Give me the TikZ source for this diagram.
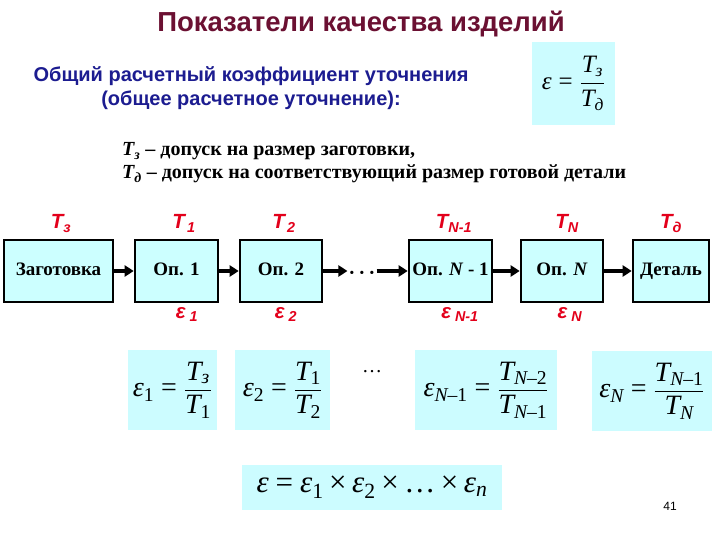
\documentclass[tikz,border=0pt]{standalone}
\usepackage{amsmath}
\usepackage{fontspec}
\setmainfont{Liberation Serif}
\setsansfont{Liberation Sans}
\usetikzlibrary{arrows.meta}
\definecolor{boxc}{HTML}{CCFFFF}
\definecolor{formc}{HTML}{CCFCFF}
\definecolor{titlec}{HTML}{6B1032}
\definecolor{bluec}{HTML}{1C1C90}
\definecolor{redc}{HTML}{E3001B}
\newcommand\mi[1]{\text{\itshape #1}}
\newcommand\mr[1]{\text{\upshape #1}}
\newcommand\eqs{\mathrel{\text{\upshape =}}}
\newcommand\tms{\mathbin{\text{\upshape ×}}}
\begin{document}
\begin{tikzpicture}[x=1pt,y=-1pt,
  opbox/.style={draw=black, line width=2.6pt, fill=boxc, minimum height=62pt, inner sep=0pt, text height=12.5pt, text depth=4pt, font=\fontsize{19}{22}\selectfont\bfseries},
  fbox/.style={fill=formc, inner sep=0pt, font=\fontsize{28}{32}\selectfont},
  flow/.style={line width=3.6pt, -{Triangle[length=9pt,width=11pt]}},
  redlab/.style={text=redc, anchor=base, inner sep=0pt, font=\fontsize{20.5}{23}\selectfont\sffamily\bfseries\itshape},
  deftext/.style={anchor=base west, inner sep=0pt, font=\fontsize{20}{23}\selectfont\bfseries},
  bluetext/.style={anchor=base, inner sep=0pt, text=bluec, font=\fontsize{20}{24}\selectfont\sffamily\bfseries},
]
\useasboundingbox (0,0) rectangle (720,540);
\fill[white] (0,0) rectangle (720,540);

% title
\node[anchor=base, inner sep=0pt, text=titlec, font=\fontsize{27.5}{32}\selectfont\sffamily\bfseries] (title) at (361,32) {Показатели качества изделий};

% blue heading
\node[bluetext] (head1) at (251,82) {Общий расчетный коэффициент уточнения};
\node[bluetext] (head2) at (251,106) {(общее расчетное уточнение):};

% top formula
\node[fbox, minimum width=83pt, minimum height=83pt, font=\fontsize{25}{30}\selectfont] (ftop) at (573.5,83.5)
  {$\mi{ε}\eqs\dfrac{\mi{T}_{\mi{з}}}{\mi{T}_{\mi{д}}}$};

% definitions
\node[deftext] (def1) at (122,156) {$\mi{T}_{\mi{з}}$ – допуск на размер заготовки,};
\node[deftext] (def2) at (122,179) {$\mi{T}_{\mi{д}}$ – допуск на соответствующий размер готовой детали};

% process boxes
\node[opbox, minimum width=109pt] (zag) at (58.5,271) {Заготовка};
\node[opbox, minimum width=83pt] (op1) at (176.5,271) {Оп. 1};
\node[opbox, minimum width=82pt] (op2) at (281,271) {Оп. 2};
\node[anchor=base, inner sep=1pt, font=\fontsize{20}{22}\selectfont\bfseries] (dots) at (362,279) {·\,·\,·};
\node[opbox, minimum width=83pt] (opn1) at (450.5,271) {Оп. \textit{N} - 1};
\node[opbox, minimum width=82pt] (opn) at (562,271) {Оп. \textit{N}};
\node[opbox, minimum width=76pt] (det) at (671,271) {Деталь};

\draw[flow] (zag) -- (op1);
\draw[flow] (op1) -- (op2);
\draw[flow] (op2.east) -- (op2.east -| dots.west);
\draw[flow] (dots.east |- opn1.west) -- (opn1.west);
\draw[flow] (opn1) -- (opn);
\draw[flow] (opn) -- (det);

% red labels
\node[redlab] (tz) at (61,229) {$\mi{T}_{\mi{з}}$};
\node[redlab] (t1) at (184,229) {$\mi{T}_{\,\mi{1}}$};
\node[redlab] (t2) at (284,229) {$\mi{T}_{\,\mi{2}}$};
\node[redlab] (tn1) at (454,229) {$\mi{T}_{\mi{N-1}}$};
\node[redlab] (tn) at (567,229) {$\mi{T}_{\mi{N}}$};
\node[redlab] (td) at (671,229) {$\mi{T}_{\mi{д}}$};
\node[redlab] (e1) at (187,318) {$\mi{ε}_{\;\mi{1}}$};
\node[redlab] (e2) at (286,318) {$\mi{ε}_{\;\mi{2}}$};
\node[redlab] (en1) at (460,318) {$\mi{ε}_{\;\mi{N-1}}$};
\node[redlab] (en) at (570,318) {$\mi{ε}_{\;\mi{N}}$};

% formula row
\node[fbox, minimum width=89pt, minimum height=80pt] (f1) at (172.5,390)
  {$\mi{ε}_{\mr{1}}\eqs\dfrac{\mi{T}_{\mi{з}}}{\mi{T}_{\mr{1}}}$};
\node[fbox, minimum width=95pt, minimum height=80pt] (f2) at (282.5,390)
  {$\mi{ε}_{\mr{2}}\eqs\dfrac{\mi{T}_{\mr{1}}}{\mi{T}_{\mr{2}}}$};
\node[inner sep=0pt, font=\fontsize{20}{24}\selectfont] (fdots) at (372,372) {…};
\node[fbox, minimum width=142pt, minimum height=80pt] (f3) at (486,390)
  {$\mi{ε}_{\mi{N}\mr{–1}}\eqs\dfrac{\mi{T}_{\mi{N}\mr{–2}}}{\mi{T}_{\mi{N}\mr{–1}}}$};
\node[fbox, minimum width=120pt, minimum height=80pt] (f4) at (652,391)
  {$\mi{ε}_{\mi{N}}\eqs\dfrac{\mi{T}_{\mi{N}\mr{–1}}}{\mi{T}_{\mi{N}}}$};

% total formula
\node[fbox, minimum width=260pt, minimum height=45pt, font=\fontsize{31}{34}\selectfont] (ftot) at (372,487.5)
  {$\mi{ε}\eqs\mi{ε}_{\mr{1}}\tms\mi{ε}_{\mr{2}}\tms\mr{…}\tms\mi{ε}_{\mi{n}}$};

% page number
\node[inner sep=0pt, font=\fontsize{12}{14}\selectfont\sffamily] (pg) at (670,506) {41};
\end{tikzpicture}
\end{document}
